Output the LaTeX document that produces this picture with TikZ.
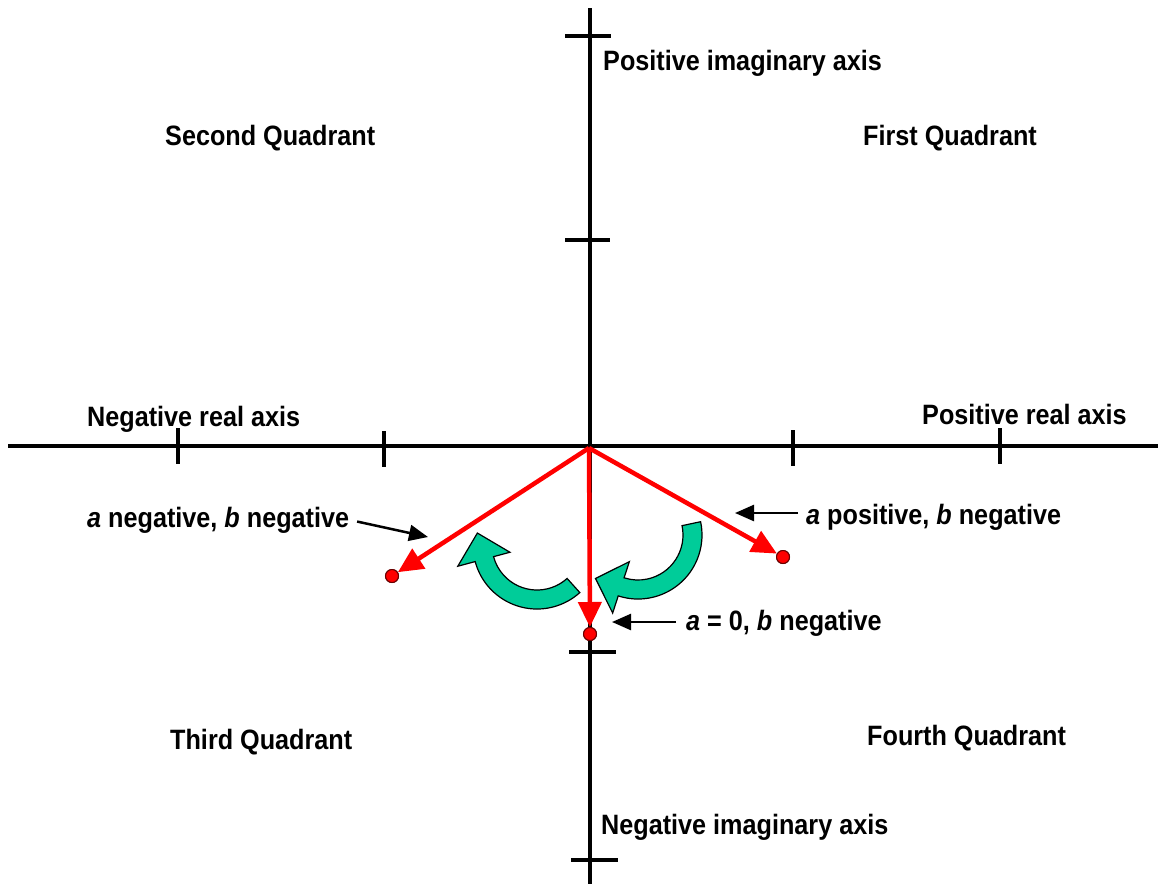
\documentclass[tikz,border=0pt]{standalone}
\usepackage{fontspec}
\setmainfont{Liberation Sans}[FakeStretch=0.9]
\usetikzlibrary{arrows.meta,calc}
\definecolor{arrowgreen}{RGB}{0,204,153}
\newcommand{\greenarc}[3]{%
  \filldraw[garrow] ($#1+(#2:45pt)$) arc[start angle=#2, end angle=#3, radius=45pt]
    -- ($#1+(#3:28pt)$) -- ($#1+(#3:54.5pt)+(#3-90:27pt)$) -- ($#1+(#3:82pt)$)
    -- ($#1+(#3:64pt)$) arc[start angle=#3, end angle=#2, radius=64pt] -- cycle;}
\begin{document}
\begin{tikzpicture}[x=1pt,y=1pt,
  axisline/.style={line width=4pt, black},
  tickline/.style={line width=3.5pt, black},
  lbl/.style={font=\fontsize{28}{34}\selectfont\bfseries, inner sep=0pt, anchor=base west},
  redvec/.style={red, line width=4.5pt, -{Triangle[length=25pt,width=23pt]}},
  pointer/.style={black, line width=2.5pt, -{Triangle[length=19pt,width=16pt]}},
  dot/.style={circle, fill=red, draw=black!60!red, line width=1pt, minimum size=13pt, inner sep=0pt},
  garrow/.style={fill=arrowgreen, draw=black, line width=1.2pt, line join=miter}
]
\useasboundingbox (0,0) rectangle (1158,-884);
% axes
\coordinate (xl) at (8,-446);
\coordinate (xr) at (1158,-446);
\coordinate (yt) at (590,-8);
\coordinate (yb) at (590,-884);
\draw[axisline] (xl) -- (xr);
\draw[axisline] (yt) -- (yb);
% ticks on the real axis
\foreach \tx/\ta/\tb in {178/428/464, 384/431/467, 793/430/466, 1000/428/464}{
  \coordinate (ta) at (\tx,-\ta);
  \coordinate (tb) at (\tx,-\tb);
  \draw[tickline] (ta) -- (tb);
}
% ticks on the imaginary axis
\foreach \ty/\ta/\tb in {36/565/611, 240/565/610, 652/569/616, 860/571/618}{
  \coordinate (ta) at (\ta,-\ty);
  \coordinate (tb) at (\tb,-\ty);
  \draw[tickline] (ta) -- (tb);
}
% vectors
\coordinate (O) at (589,-448);
\node[dot] (d1) at (392,-576) {};
\node[dot] (d2) at (590,-634) {};
\node[dot] (d3) at (783,-557) {};
\draw[redvec] (O) -- (d1);
\draw[redvec] (O) -- (d2);
\draw[redvec] (O) -- (d3);
\node[dot] at (d1) {};
\node[dot] at (d2) {};
\node[dot] at (d3) {};
% green rotation arrows
\coordinate (gc1) at (537,-545);
\coordinate (gc2) at (638,-535);
\greenarc{(gc1)}{-48}{-165}
\greenarc{(gc2)}{12}{-108}
% labels
\node[lbl] (posim) at (603,-70) {Positive imaginary axis};
\node[lbl] (second) at (165,-145) {Second Quadrant};
\node[lbl] (first) at (863,-145) {First Quadrant};
\node[lbl] (negre) at (87,-426) {Negative real axis};
\node[lbl] (posre) at (922,-424) {Positive real axis};
\node[lbl] (lneg) at (87,-527) {\textit{a} negative, \textit{b} negative};
\node[lbl] (lpos) at (806,-524) {\textit{a} positive, \textit{b} negative};
\node[lbl] (lzero) at (686,-630) {\textit{a} = 0, \textit{b} negative};
\node[lbl] (third) at (170,-749) {Third Quadrant};
\node[lbl] (fourth) at (867,-745) {Fourth Quadrant};
\node[lbl] (negim) at (601,-834) {Negative imaginary axis};
% pointer arrows
\coordinate (t1) at (428,-537);
\coordinate (t2) at (735,-513);
\coordinate (t3) at (612,-622);
\draw[pointer, shorten <=8pt] (lneg.east) -- (t1);
\draw[pointer, shorten <=8pt] (lpos.west |- t2) -- (t2);
\draw[pointer, shorten <=10pt] (lzero.west |- t3) -- (t3);
\end{tikzpicture}
\end{document}
